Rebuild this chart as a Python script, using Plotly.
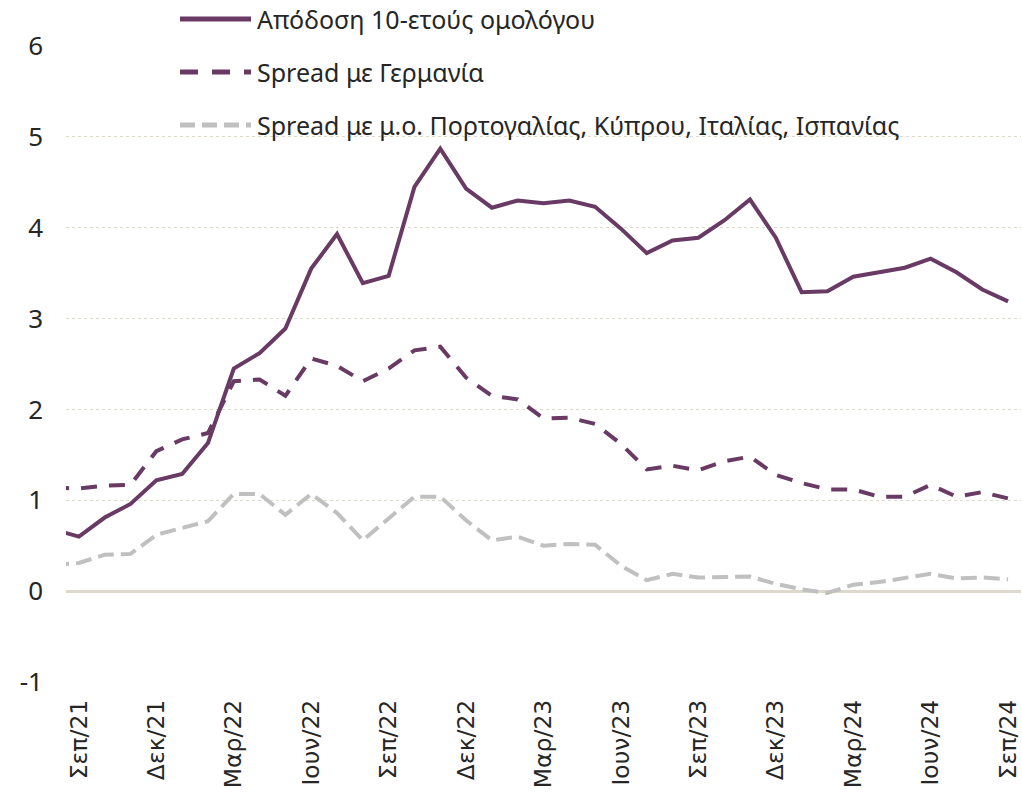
import plotly.graph_objects as go

months = ["Αυγ/21", "Σεπ/21", "Οκτ/21", "Νοε/21", "Δεκ/21", "Ιαν/22", "Φεβ/22", "Μαρ/22", "Απρ/22",
          "Μαϊ/22", "Ιουν/22", "Ιουλ/22", "Αυγ/22", "Σεπ/22", "Οκτ/22", "Νοε/22", "Δεκ/22",
          "Ιαν/23", "Φεβ/23", "Μαρ/23", "Απρ/23", "Μαϊ/23", "Ιουν/23", "Ιουλ/23", "Αυγ/23",
          "Σεπ/23", "Οκτ/23", "Νοε/23", "Δεκ/23", "Ιαν/24", "Φεβ/24", "Μαρ/24", "Απρ/24",
          "Μαϊ/24", "Ιουν/24", "Ιουλ/24", "Αυγ/24", "Σεπ/24"]

yield_10y = [0.68, 0.60, 0.81, 0.96, 1.22, 1.29, 1.63, 2.45, 2.62, 2.89, 3.55, 3.93, 3.39, 3.47,
             4.45, 4.87, 4.43, 4.22, 4.30, 4.27, 4.30, 4.23, 3.99, 3.72, 3.86, 3.89, 4.08, 4.31,
             3.89, 3.29, 3.30, 3.46, 3.51, 3.56, 3.66, 3.51, 3.32, 3.19]

spread_de = [1.14, 1.13, 1.16, 1.17, 1.54, 1.67, 1.74, 2.31, 2.33, 2.15, 2.56, 2.48, 2.31, 2.45,
             2.65, 2.69, 2.35, 2.15, 2.11, 1.90, 1.91, 1.84, 1.62, 1.34, 1.38, 1.33, 1.43, 1.48,
             1.28, 1.19, 1.12, 1.12, 1.04, 1.04, 1.17, 1.04, 1.09, 1.02]

spread_south = [0.29, 0.31, 0.40, 0.41, 0.62, 0.69, 0.77, 1.07, 1.07, 0.84, 1.07, 0.86, 0.56, 0.80,
                1.04, 1.04, 0.78, 0.56, 0.60, 0.50, 0.52, 0.51, 0.28, 0.12, 0.19, 0.15, 0.16, 0.16,
                0.08, 0.02, -0.02, 0.07, 0.10, 0.15, 0.19, 0.14, 0.15, 0.13]

tick_months = ["Σεπ/21", "Δεκ/21", "Μαρ/22", "Ιουν/22", "Σεπ/22", "Δεκ/22", "Μαρ/23",
               "Ιουν/23", "Σεπ/23", "Δεκ/23", "Μαρ/24", "Ιουν/24", "Σεπ/24"]

y_ticks = [-1, 0, 1, 2, 3, 4, 5, 6]
y_ticktext = ["-1", "0", "1", "2", "3", "4", "5", "6"]

series_names = ["Απόδοση 10-ετούς ομολόγου", "Spread με Γερμανία",
                "Spread με μ.ο. Πορτογαλίας, Κύπρου, Ιταλίας, Ισπανίας"]

PURPLE = "#683a64"
GRAY = "#c0c0c0"
TAN = "#ddd9cc"
TEXT = "#262626"

fig = go.Figure()
fig.add_trace(go.Scatter(x=months, y=spread_south, mode="lines", name=series_names[2],
                         line=dict(color=GRAY, width=4, dash="16px,7px")))
fig.add_trace(go.Scatter(x=months, y=spread_de, mode="lines", name=series_names[1],
                         line=dict(color=PURPLE, width=4, dash="16px,12px")))
fig.add_trace(go.Scatter(x=months, y=yield_10y, mode="lines", name=series_names[0],
                         line=dict(color=PURPLE, width=4)))

# manual legend
leg = [(19, PURPLE, "solid", series_names[0]),
       (72, PURPLE, "18px,14px", series_names[1]),
       (125, GRAY, "15px,7px", series_names[2])]
for ypx, col, dash, name in leg:
    yp = 1 - (ypx - 46) / 636
    fig.add_shape(type="line", xref="paper", yref="paper",
                  x0=(180 - 66) / 955, x1=(251 - 66) / 955, y0=yp, y1=yp,
                  line=dict(color=col, width=5, dash=dash))
    fig.add_annotation(xref="paper", yref="paper", x=(255 - 66) / 955, y=yp,
                       text=name, showarrow=False, xanchor="left", yanchor="middle",
                       font=dict(family="Noto Sans", size=25, color=TEXT))

fig.update_layout(
    width=1022, height=793,
    margin=dict(l=66, r=1, t=46, b=111),
    paper_bgcolor="white", plot_bgcolor="white",
    showlegend=False,
    font=dict(family="Noto Sans", color=TEXT),
)
fig.update_xaxes(
    type="category", range=[0.5, 37.5], automargin=False,
    tickmode="array", tickvals=tick_months, ticktext=tick_months,
    tickangle=-90, showgrid=False, showline=False, ticks="",
    ticklabelstandoff=12,
    tickfont=dict(family="DejaVu Sans", size=23.5, color=TEXT),
)
fig.update_yaxes(
    range=[-1, 6], automargin=False,
    tickmode="array", tickvals=y_ticks, ticktext=y_ticktext,
    showgrid=True, gridcolor=TAN, gridwidth=1.3, griddash="dot",
    zeroline=True, zerolinecolor=TAN, zerolinewidth=2.5,
    showline=False, ticks="", ticklabelstandoff=22,
    tickfont=dict(family="Noto Sans", size=26, color=TEXT),
)

fig.write_html("out.html", config={"displayModeBar": False},
               post_script="document.body.style.margin='0';document.body.style.overflow='hidden';")
